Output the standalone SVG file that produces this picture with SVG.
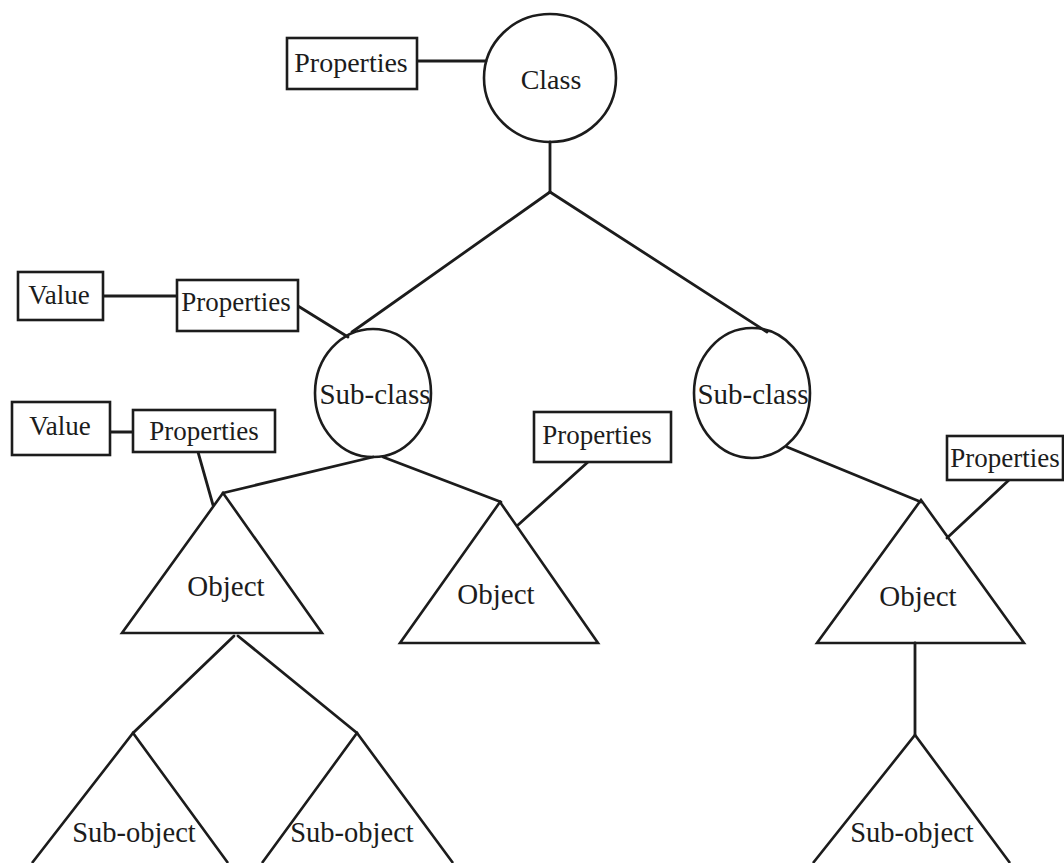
<svg xmlns="http://www.w3.org/2000/svg" width="1064" height="863" viewBox="0 0 1064 863">
  <style>
    .shape { fill: none; stroke: #1c1c1c; stroke-width: 2.6; }
    .box { fill: #ffffff; stroke: #1c1c1c; stroke-width: 2.6; }
    .link { fill: none; stroke: #1c1c1c; stroke-width: 2.8; stroke-linecap: round; }
    .lbl { font-family: "Liberation Serif", "Times New Roman", serif; font-size: 27px; fill: #1c1c1c; text-anchor: middle; }
    .big { font-size: 28px; }
    .node { font-size: 29px; }
    .sub { font-size: 28.5px; }
  </style>
  <rect width="1064" height="863" fill="#ffffff"/>

  <!-- connectors -->
  <g id="connectors">
    <line class="link" x1="417" y1="61" x2="486" y2="61"/>
    <line class="link" x1="550" y1="142" x2="550" y2="192"/>
    <line class="link" x1="550" y1="192" x2="352" y2="332"/>
    <line class="link" x1="550" y1="192" x2="767" y2="332"/>
    <line class="link" x1="103" y1="296" x2="177" y2="296"/>
    <line class="link" x1="298" y1="306" x2="348" y2="337"/>
    <line class="link" x1="110" y1="432" x2="133" y2="432"/>
    <line class="link" x1="198" y1="452" x2="213" y2="505"/>
    <line class="link" x1="373" y1="457" x2="223" y2="493"/>
    <line class="link" x1="383" y1="457" x2="501" y2="502"/>
    <line class="link" x1="588" y1="462" x2="518" y2="525"/>
    <line class="link" x1="787" y1="447" x2="921" y2="502"/>
    <line class="link" x1="1009" y1="480" x2="947" y2="538"/>
    <line class="link" x1="234" y1="636" x2="133" y2="733"/>
    <line class="link" x1="238" y1="636" x2="357" y2="733"/>
    <line class="link" x1="915" y1="643" x2="915" y2="735"/>
  </g>

  <!-- class -->
  <g id="class">
    <ellipse class="shape" cx="550" cy="78" rx="66" ry="64"/>
    <text class="lbl big" x="551" y="89">Class</text>
  </g>
  <g id="class-properties">
    <rect class="box" x="287" y="38" width="130" height="51"/>
    <text class="lbl big" x="351" y="72">Properties</text>
  </g>

  <!-- left sub-class with its properties -->
  <g id="subclass-left">
    <ellipse class="shape" cx="373" cy="393" rx="58" ry="64"/>
    <text class="lbl node" x="375" y="404">Sub-class</text>
  </g>
  <g id="subclass-left-properties">
    <rect class="box" x="177" y="280" width="121" height="51"/>
    <text class="lbl" x="236" y="311">Properties</text>
  </g>
  <g id="subclass-left-value">
    <rect class="box" x="18" y="272" width="85" height="48"/>
    <text class="lbl" x="59" y="304">Value</text>
  </g>

  <!-- right sub-class -->
  <g id="subclass-right">
    <ellipse class="shape" cx="752" cy="393" rx="58" ry="65"/>
    <text class="lbl node" x="753" y="404">Sub-class</text>
  </g>

  <!-- left object -->
  <g id="object-left">
    <polygon class="shape" points="223,493 322,633 122,633"/>
    <text class="lbl node" x="226" y="596">Object</text>
  </g>
  <g id="object-left-properties">
    <rect class="box" x="133" y="410" width="142" height="42"/>
    <text class="lbl" x="204" y="440">Properties</text>
  </g>
  <g id="object-left-value">
    <rect class="box" x="12" y="402" width="98" height="53"/>
    <text class="lbl" x="60" y="435">Value</text>
  </g>

  <!-- middle object -->
  <g id="object-middle">
    <polygon class="shape" points="500,502 598,643 400,643"/>
    <text class="lbl node" x="496" y="604">Object</text>
  </g>
  <g id="object-middle-properties">
    <rect class="box" x="534" y="412" width="137" height="50"/>
    <text class="lbl" x="597" y="444">Properties</text>
  </g>

  <!-- right object -->
  <g id="object-right">
    <polygon class="shape" points="921,500 1024,643 817,643"/>
    <text class="lbl node" x="918" y="606">Object</text>
  </g>
  <g id="object-right-properties">
    <rect class="box" x="947" y="436" width="116" height="44"/>
    <text class="lbl" x="1005" y="467">Properties</text>
  </g>

  <!-- sub-objects -->
  <g id="subobject-left">
    <polyline class="shape" points="32,863 133,733 228,863"/>
    <text class="lbl sub" x="134" y="842">Sub-object</text>
  </g>
  <g id="subobject-middle">
    <polyline class="shape" points="262,863 357,733 453,863"/>
    <text class="lbl sub" x="352" y="842">Sub-object</text>
  </g>
  <g id="subobject-right">
    <polyline class="shape" points="813,863 915,735 1010,863"/>
    <text class="lbl sub" x="912" y="842">Sub-object</text>
  </g>
</svg>
